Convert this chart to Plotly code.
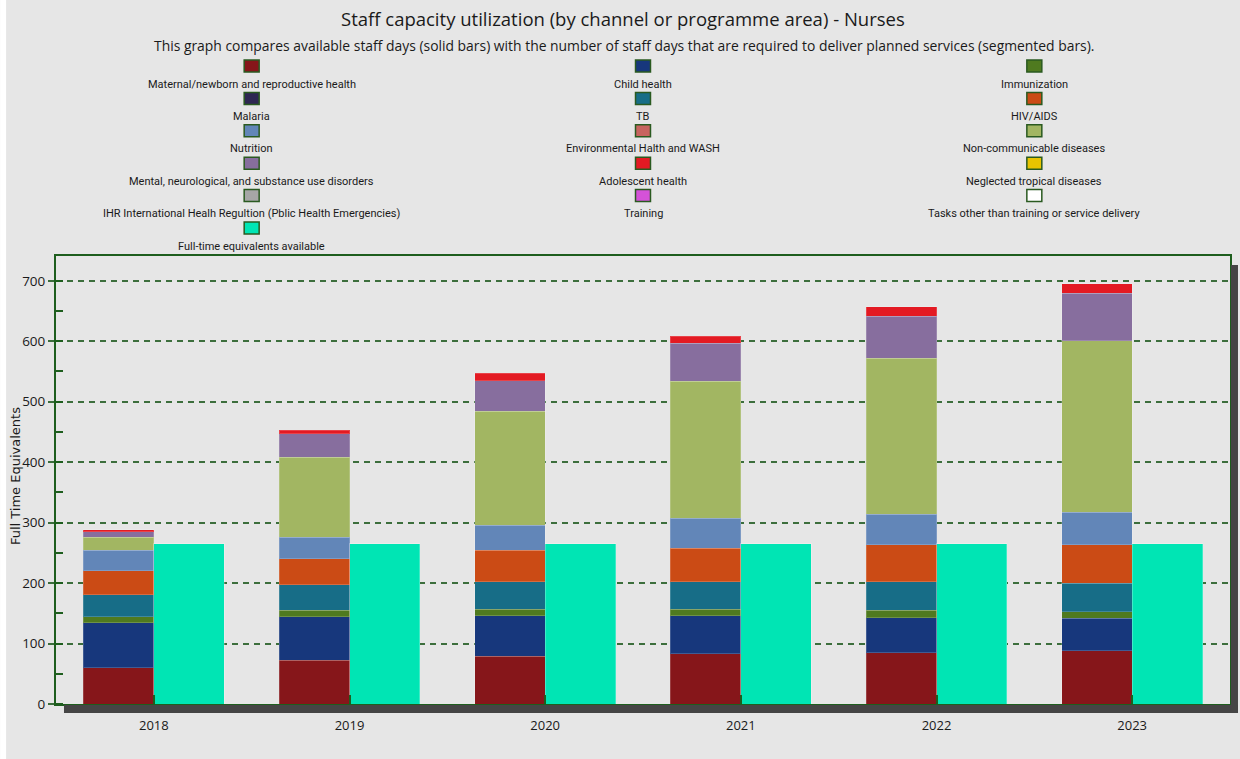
import plotly.graph_objects as go
import numpy as np

# ---- data -------------------------------------------------------------
years = ["2018", "2019", "2020", "2021", "2022", "2023"]

maternal = [60, 72, 79, 83, 85, 88]
child_health = [74, 72, 67, 63, 58, 54]
immunization = [10, 11, 11, 11, 12, 11]
malaria = [0, 0, 0, 0, 0, 0]
tb = [37, 42, 45, 45, 47, 47]
hiv_aids = [39, 43, 52, 56, 61, 63]
nutrition = [34, 36, 42, 49, 51, 54]
env_health_wash = [0, 0, 0, 0, 0, 0]
ncd = [22, 132, 188, 227, 258, 284]
mental_health = [9, 39, 51, 63, 69, 78]
adolescent = [3, 6, 12, 11, 16, 16]
ntd = [0, 0, 0, 0, 0, 0]
ihr = [0, 0, 0, 0, 0, 0]
training = [0, 0, 0, 0, 0, 0]
other_tasks = [0, 0, 0, 0, 0, 0]
fte_available = [265, 265, 265, 265, 265, 265]

y_ticks = [0, 100, 200, 300, 400, 500, 600, 700]

series = [
    ("Maternal/newborn and reproductive health", "#86161a", maternal),
    ("Child health", "#17377c", child_health),
    ("Immunization", "#4f7a1f", immunization),
    ("Malaria", "#2e2752", malaria),
    ("TB", "#176d87", tb),
    ("HIV/AIDS", "#cb4b15", hiv_aids),
    ("Nutrition", "#6286b8", nutrition),
    ("Environmental Halth and WASH", "#c8645f", env_health_wash),
    ("Non-communicable diseases", "#a2b662", ncd),
    ("Mental, neurological, and substance use disorders", "#876e9e", mental_health),
    ("Adolescent health", "#e31a23", adolescent),
    ("Neglected tropical diseases", "#e8c400", ntd),
    ("IHR International Healh Regultion (Pblic Health Emergencies)", "#a6a6a6", ihr),
    ("Training", "#d552d8", training),
    ("Tasks other than training or service delivery", "#ffffff", other_tasks),
]
fte_series = ("Full-time equivalents available", "#00e5b4", fte_available)

# ---- geometry helpers ---------------------------------------------------
W, H = 1240, 759
L, R, T, B = 56, 8, 256, 55
PW, PH = W - L - R, H - T - B


def px(x):
    return (x - L) / PW


def py(y):
    return (H - B - y) / PH


BAR_W = 0.36
idx = np.arange(len(years))
seg_x = idx - BAR_W / 2
fte_x = idx + BAR_W / 2

fig = go.Figure()

for name, color, vals in series:
    nonzero = any(v > 0 for v in vals)
    fig.add_trace(go.Bar(
        x=seg_x, y=vals, width=BAR_W, name=name,
        marker=dict(color=color,
                    line=dict(color="rgba(255,255,255,0.18)", width=1 if nonzero else 0)),
        showlegend=False,
    ))

fig.add_trace(go.Bar(
    x=fte_x, y=fte_series[2], width=BAR_W, name=fte_series[0],
    marker=dict(color=fte_series[1], line=dict(color="rgba(255,255,255,0.25)", width=1)),
    showlegend=False,
))

shapes = []
annotations = []

# white strip on the left edge of the canvas
shapes.append(dict(type="rect", xref="paper", yref="paper",
                   x0=px(0), x1=px(6), y0=py(H), y1=py(0),
                   fillcolor="white", line=dict(width=0), layer="below"))

# drop shadow under and to the right of the plot frame
shadow = "#454545"
shapes.append(dict(type="rect", xref="paper", yref="paper",
                   x0=px(64), x1=px(1240), y0=py(713), y1=py(705),
                   fillcolor=shadow, line=dict(width=0)))
shapes.append(dict(type="rect", xref="paper", yref="paper",
                   x0=px(1233), x1=px(1240), y0=py(713), y1=py(265),
                   fillcolor=shadow, line=dict(width=0)))

# legend: three columns, swatch above label
legend_items = series + [fte_series]
col_x = [252, 644, 1036]
for k, (name, color, _vals) in enumerate(legend_items):
    r, c = divmod(k, 3)
    cx = col_x[c]
    sy = 66 + 32.4 * r
    ly = 84 + 32.4 * r
    shapes.append(dict(type="rect", xref="paper", yref="paper",
                       x0=px(cx - 7.5), x1=px(cx + 7.5),
                       y0=py(sy + 6), y1=py(sy - 6),
                       fillcolor=color, line=dict(color="#2a5a20", width=1.5)))
    annotations.append(dict(text=name, xref="paper", yref="paper",
                            x=px(cx), y=py(ly), xanchor="center", yanchor="middle",
                            showarrow=False,
                            font=dict(family="Roboto", size=11, color="#1a1a1a")))

# titles
annotations.append(dict(text="Staff capacity utilization (by channel or programme area) - Nurses",
                        xref="paper", yref="paper", x=px(624), y=py(19),
                        xanchor="center", yanchor="middle", showarrow=False,
                        font=dict(family="Open Sans", size=18.5, color="#1a1a1a")))
annotations.append(dict(text="This graph compares available staff days (solid bars) with the number of staff days "
                             "that are required to deliver planned services (segmented bars).",
                        xref="paper", yref="paper", x=px(625), y=py(45),
                        xanchor="center", yanchor="middle", showarrow=False,
                        font=dict(family="Open Sans", size=13.9, color="#1a1a1a")))

# y axis title
annotations.append(dict(text="Full Time Equivalents", xref="paper", yref="paper",
                        x=px(15), y=py(476), xanchor="center", yanchor="middle",
                        textangle=-90, showarrow=False,
                        font=dict(family="DejaVu Sans", size=13, color="#1a1a1a")))

frame = "#1e5e1e"
fig.update_layout(
    width=W, height=H,
    margin=dict(l=L, r=R, t=T, b=B),
    paper_bgcolor="#e6e6e6",
    plot_bgcolor="#e6e6e6",
    barmode="stack",
    shapes=shapes,
    annotations=annotations,
    showlegend=False,
    xaxis=dict(
        range=[-0.5, 5.5],
        tickvals=list(idx), ticktext=years,
        showgrid=False, zeroline=False,
        showline=True, linecolor=frame, linewidth=2, mirror=True,
        ticks="inside", ticklen=9, tickwidth=1.5, tickcolor=frame,
        ticklabelstandoff=8,
        tickfont=dict(family="Open Sans", size=13, color="#1a1a1a"),
    ),
    yaxis=dict(
        range=[0, 741],
        tickvals=y_ticks,
        showgrid=True, gridcolor="#3c6e3c", gridwidth=1.5, griddash="6px,5px",
        zeroline=False,
        showline=True, linecolor=frame, linewidth=2, mirror=True,
        ticks="outside", ticklen=6, tickwidth=1.5, tickcolor="#3c6e3c",
        minor=dict(dtick=50, ticks="inside", ticklen=7, tickwidth=1.5,
                   tickcolor=frame, showgrid=False),
        tickfont=dict(family="Open Sans", size=13.5, color="#1a1a1a"),
    ),
)

fig.write_html("out.html")
